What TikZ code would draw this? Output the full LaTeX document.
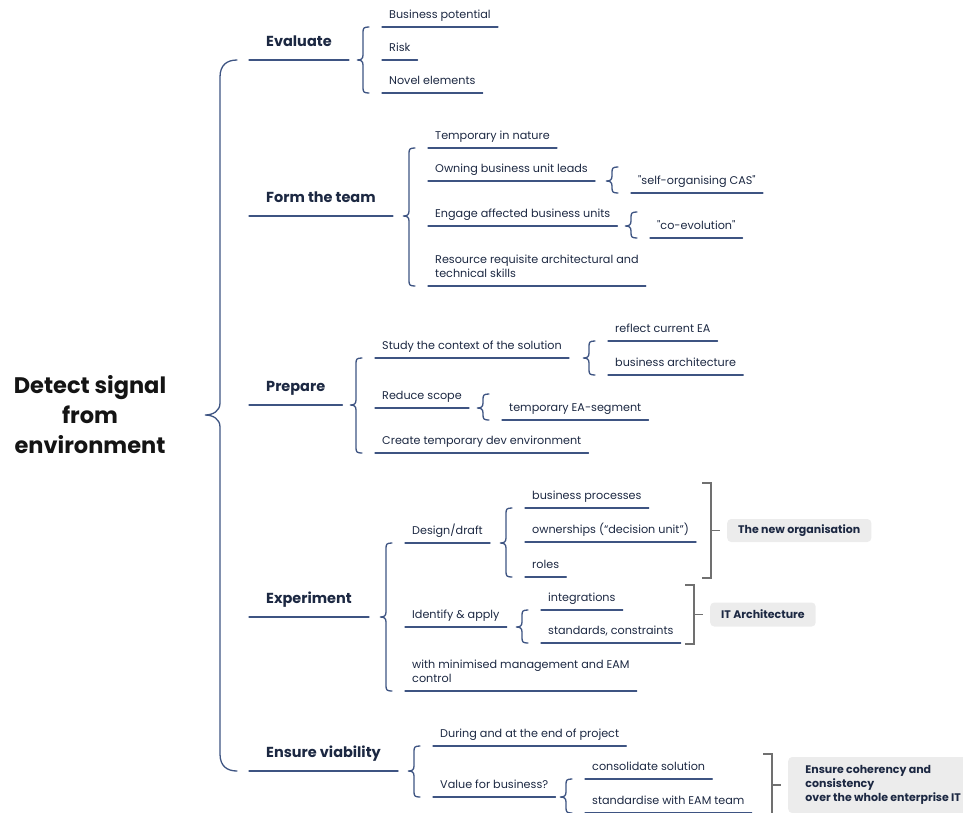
\documentclass[tikz,border=0pt]{standalone}
\usepackage{fontspec}
\setmainfont{Poppins}[Ligatures=TeXOff]
\usepackage{tikz}
\usetikzlibrary{calc}

\definecolor{mmline}{RGB}{62,84,130}
\definecolor{mmtext}{RGB}{28,40,66}
\definecolor{mmgrey}{RGB}{112,112,112}
\definecolor{mmbox}{RGB}{236,236,236}

% curly brace from a parent node to the span of its children
\newcommand{\mmbrace}[3]{%
  \draw[branch] let \p1=(#2), \p2=(#3), \p3=(#1.south) in
    (\x1-13pt,\y1) .. controls (\x1-18pt,\y1) and (\x1-19pt,\y1-1pt) .. (\x1-19pt,\y1-5pt)
    -- (\x1-19pt,\y3+5pt) .. controls (\x1-19pt,\y3+1pt) and (\x1-21pt,\y3) .. (\x1-25pt,\y3)
    .. controls (\x1-21pt,\y3) and (\x1-19pt,\y3-1pt) .. (\x1-19pt,\y3-5pt)
    -- (\x1-19pt,\y2+5pt) .. controls (\x1-19pt,\y2+1pt) and (\x1-18pt,\y2) .. (\x1-13pt,\y2);}

% square bracket from a group of children to its summary box
\newcommand{\mmsummary}[3]{%
  \draw[bracket] let \p1=(#1.south), \p2=(#2.south), \p3=(#3.west) in
    (\x3-25pt,\y1+25pt) -- (\x3-16pt,\y1+25pt) -- (\x3-16pt,\y2-1pt) -- (\x3-25pt,\y2-1pt)
    (\x3-16pt,\y3) -- (\x3-7pt,\y3);}

\begin{document}
\begin{tikzpicture}[x=1pt,y=-1pt,
  branch/.style={draw=mmline, line width=1.3pt, line cap=round},
  bracket/.style={draw=mmgrey, line width=1.2pt},
  root/.style={align=center, text=black!92, font=\fontsize{22.5}{30}\selectfont\bfseries},
  topic/.style={anchor=south west, inner xsep=17pt, inner ysep=10pt, text depth=3.5pt,
    text=mmtext, font=\fontsize{14.5}{17}\selectfont\bfseries},
  leaf/.style={anchor=south west, inner xsep=7pt, inner ysep=5.5pt, text depth=3pt,
    align=left, text=mmtext, font=\fontsize{11.2}{14}\selectfont},
  summary/.style={anchor=west, fill=mmbox, rounded corners=4pt, inner xsep=11pt,
    align=left, text=mmtext, font=\fontsize{11}{14}\selectfont\bfseries}]
  \useasboundingbox (0,0) rectangle (963,812);
  \clip (0,0) rectangle (963,812);

  % Root
  \node[root] (root) at (90,415) {Detect signal\\from\\environment};

  % Main topics
  \node[topic] (ev)  at (249,60)  {Evaluate};
  \node[topic] (ft)  at (249,216) {Form the team};
  \node[topic] (pr)  at (249,405) {Prepare};
  \node[topic] (ex)  at (249,617) {Experiment};
  \node[topic] (ev2) at (249,771) {Ensure viability};

  % Evaluate
  \node[leaf] (bp)    at (382,27) {Business potential};
  \node[leaf] (risk)  at (382,60) {Risk};
  \node[leaf] (novel) at (382,93) {Novel elements};

  % Form the team
  \node[leaf] (tin)  at (428,148) {Temporary in nature};
  \node[leaf] (own)  at (428,181) {Owning business unit leads};
  \node[leaf] (eng)  at (428,226) {Engage affected business units};
  \node[leaf] (res)  at (428,286) {Resource requisite architectural and\\technical skills};
  \node[leaf] (cas)  at (631,193) {"self-organising CAS"};
  \node[leaf] (coev) at (650,238) {"co-evolution"};

  % Prepare
  \node[leaf] (ctx)   at (375,358) {Study the context of the solution};
  \node[leaf] (scope) at (375,408) {Reduce scope};
  \node[leaf] (dev)   at (375,453) {Create temporary dev environment};
  \node[leaf] (rea)   at (608,341) {reflect current EA};
  \node[leaf] (barch) at (608,375) {business architecture};
  \node[leaf] (seg)   at (502,420) {temporary EA-segment};

  % Experiment
  \node[leaf] (des)   at (405,543) {Design/draft};
  \node[leaf] (idf)   at (405,627) {Identify \& apply};
  \node[leaf] (minim) at (405,691) {with minimised management and EAM\\control};
  \node[leaf] (bproc) at (525,508) {business processes};
  \node[leaf] (own2)  at (525,542) {ownerships (“decision unit”)};
  \node[leaf] (roles) at (525,577) {roles};
  \node[leaf] (integ) at (541,610) {integrations};
  \node[leaf] (std)   at (541,643) {standards, constraints};

  % Ensure viability
  \node[leaf] (dur)  at (433,746) {During and at the end of project};
  \node[leaf] (val)  at (433,797) {Value for business?};
  \node[leaf] (cons) at (585,779) {consolidate solution};
  \node[leaf] (stdz) at (585,813) {standardise with EAM team};

  % Summaries
  \node[summary, minimum height=23pt] (sumA) at (727,530.5) {The new organisation};
  \node[summary, minimum height=24pt] (sumB) at (710,614.5) {IT Architecture};
  \node[summary, minimum height=56pt, minimum width=190pt] (sumC) at (788,785)
    {Ensure coherency and\\consistency\\over the whole enterprise IT};

  % Underlines
  \foreach \n in {ev,ft,pr,ex,ev2,bp,risk,novel,tin,own,eng,res,cas,coev,
      ctx,scope,dev,rea,barch,seg,des,idf,minim,bproc,own2,roles,integ,std,
      dur,val,cons,stdz}
    \draw[branch] (\n.south west) -- (\n.south east);

  % Main brace
  \draw[branch] let \p1=(ev.south west), \p2=(ev2.south west), \p3=(root.center) in
    (\x1-12pt,\y1) .. controls (\x1-22pt,\y1) and (\x1-29pt,\y1-5pt) .. (\x1-29pt,\y1-17pt)
    -- (\x1-29pt,\y3+12pt) .. controls (\x1-29pt,\y3+4pt) and (\x1-36pt,\y3) .. (\x1-44pt,\y3)
    .. controls (\x1-36pt,\y3) and (\x1-29pt,\y3-4pt) .. (\x1-29pt,\y3-12pt)
    -- (\x1-29pt,\y2+17pt) .. controls (\x1-29pt,\y2+5pt) and (\x1-22pt,\y2) .. (\x1-12pt,\y2);

  % Braces
  \mmbrace{ev}{bp.south west}{novel.south west}
  \mmbrace{ft}{tin.south west}{res.south west}
  \mmbrace{own}{[yshift=26pt]cas.south west}{cas.south west}
  \mmbrace{eng}{[yshift=26pt]coev.south west}{coev.south west}
  \mmbrace{pr}{ctx.south west}{dev.south west}
  \mmbrace{ctx}{rea.south west}{barch.south west}
  \mmbrace{scope}{[yshift=26pt]seg.south west}{seg.south west}
  \mmbrace{ex}{des.south west}{minim.south west}
  \mmbrace{des}{bproc.south west}{roles.south west}
  \mmbrace{idf}{integ.south west}{std.south west}
  \mmbrace{ev2}{dur.south west}{val.south west}
  \mmbrace{val}{cons.south west}{stdz.south west}

  % Brackets
  \mmsummary{bproc}{roles}{sumA}
  \mmsummary{integ}{std}{sumB}
  \mmsummary{cons}{stdz}{sumC}
\end{tikzpicture}
\end{document}
